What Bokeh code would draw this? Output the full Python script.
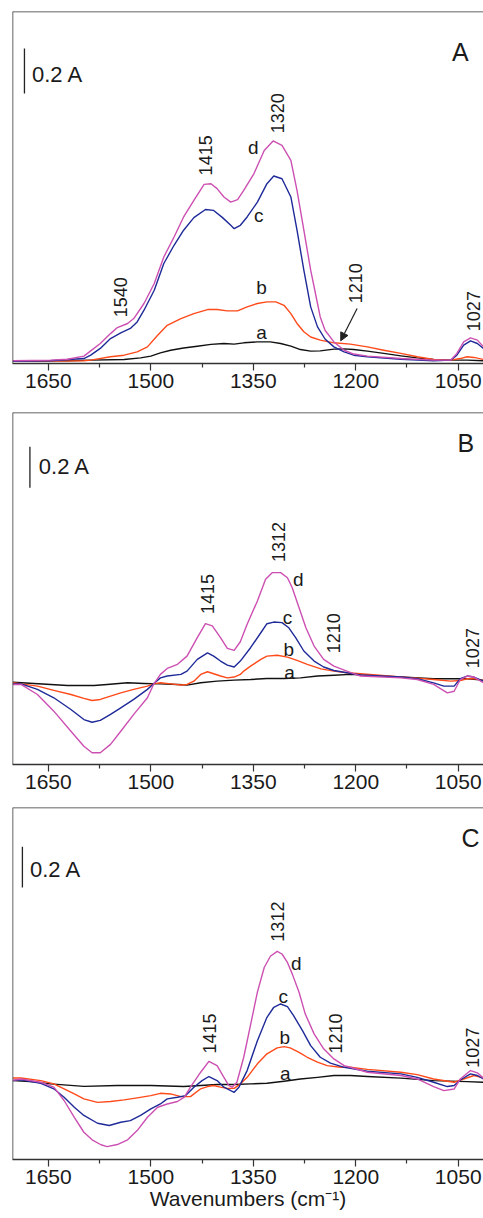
from bokeh.plotting import figure
from bokeh.models import Range1d, FixedTicker, Span, Arrow, NormalHead, Label
from bokeh.layouts import column
from bokeh.embed import file_html
from bokeh.resources import INLINE

# ---------------- data ----------------
tick_labels = [1650, 1500, 1350, 1200, 1050]
minor_tick_values = [1575, 1425, 1275, 1125]
x_title = "Wavenumbers (cm\u207b\u00b9)"

# Panel A
A_a_wn = [1702,1622,1588,1539,1515,1500,1486,1471,1452,1432,1412,1393,1378,1364,1344,1325,1310,1295,1281,1266,1252,1232,1217,1203,1183,1159,1134,1110,1086,1061,1037,1013]
A_a_ab = [0.003,0.003,0.006,0.009,0.016,0.024,0.038,0.050,0.060,0.068,0.076,0.080,0.077,0.083,0.087,0.087,0.080,0.068,0.053,0.046,0.047,0.055,0.056,0.053,0.046,0.036,0.025,0.016,0.009,0.006,0.006,0.003]
A_b_wn = [1702,1598,1588,1559,1539,1520,1505,1490,1476,1456,1437,1417,1403,1388,1373,1359,1344,1330,1317,1305,1295,1286,1276,1266,1252,1232,1208,1183,1159,1134,1110,1086,1061,1047,1037,1027,1013]
A_b_ab = [0.001,0.003,0.006,0.021,0.028,0.043,0.065,0.117,0.161,0.191,0.213,0.231,0.231,0.225,0.225,0.243,0.258,0.265,0.265,0.250,0.213,0.169,0.132,0.109,0.095,0.083,0.077,0.065,0.050,0.036,0.021,0.009,0.006,0.013,0.021,0.018,0.009]
A_c_wn = [1702,1647,1598,1588,1574,1559,1544,1530,1520,1510,1495,1481,1466,1452,1437,1420,1408,1395,1383,1378,1369,1359,1344,1330,1320,1308,1295,1286,1276,1266,1256,1245,1232,1217,1203,1183,1134,1086,1061,1052,1042,1032,1022,1013]
A_c_ab = [0.001,0.003,0.013,0.028,0.058,0.102,0.127,0.147,0.176,0.228,0.317,0.436,0.517,0.584,0.640,0.676,0.672,0.640,0.606,0.591,0.606,0.643,0.709,0.791,0.825,0.813,0.732,0.584,0.406,0.243,0.154,0.100,0.065,0.043,0.028,0.021,0.010,0.003,0.006,0.028,0.073,0.092,0.080,0.058]
A_d_wn = [1702,1647,1622,1598,1588,1574,1559,1549,1534,1525,1510,1495,1481,1466,1452,1437,1422,1412,1403,1393,1383,1373,1364,1349,1334,1321,1308,1295,1286,1276,1266,1256,1252,1245,1232,1217,1203,1183,1134,1086,1061,1052,1042,1032,1022,1013]
A_d_ab = [0.003,0.006,0.010,0.024,0.047,0.080,0.124,0.151,0.169,0.191,0.258,0.347,0.465,0.554,0.643,0.717,0.788,0.791,0.769,0.732,0.709,0.720,0.761,0.836,0.939,0.981,0.961,0.895,0.761,0.584,0.406,0.258,0.198,0.139,0.087,0.050,0.033,0.024,0.013,0.006,0.006,0.036,0.087,0.105,0.095,0.065]

# Panel B
B_a_wn = [1702,1671,1622,1583,1564,1534,1510,1486,1461,1447,1427,1403,1378,1354,1330,1305,1281,1256,1232,1208,1183,1134,1086,1037,1013]
B_a_ab = [0.003,-0.003,-0.013,-0.013,-0.008,0.000,-0.003,-0.005,-0.008,-0.011,0.000,0.008,0.013,0.016,0.021,0.021,0.024,0.033,0.037,0.041,0.036,0.028,0.020,0.020,0.013]
B_b_wn = [1702,1690,1666,1642,1617,1598,1586,1574,1559,1544,1525,1505,1496,1486,1471,1456,1447,1437,1427,1417,1408,1398,1388,1378,1369,1364,1354,1339,1330,1315,1300,1286,1271,1251,1232,1213,1193,1134,1086,1061,1047,1037,1027,1013]
B_b_ab = [0.000,-0.005,-0.016,-0.037,-0.057,-0.076,-0.086,-0.081,-0.065,-0.049,-0.032,-0.016,-0.005,0.000,-0.005,-0.011,-0.008,0.008,0.041,0.054,0.044,0.033,0.024,0.028,0.041,0.057,0.081,0.114,0.130,0.134,0.125,0.109,0.090,0.068,0.057,0.049,0.044,0.029,0.016,0.008,0.011,0.020,0.021,0.011]
B_c_wn = [1702,1690,1666,1642,1617,1598,1586,1574,1559,1544,1525,1505,1496,1486,1476,1456,1447,1432,1417,1408,1398,1388,1378,1369,1354,1339,1330,1320,1308,1298,1288,1276,1261,1247,1232,1213,1193,1134,1110,1086,1071,1056,1047,1037,1027,1013]
B_c_ab = [-0.005,-0.005,-0.032,-0.073,-0.130,-0.179,-0.192,-0.183,-0.154,-0.122,-0.081,-0.032,-0.005,0.024,0.033,0.041,0.057,0.114,0.146,0.130,0.106,0.086,0.077,0.106,0.171,0.244,0.288,0.296,0.293,0.268,0.220,0.155,0.106,0.077,0.060,0.049,0.038,0.028,0.020,0.000,-0.016,-0.016,0.020,0.033,0.028,0.008]
B_d_wn = [1702,1690,1666,1642,1617,1598,1586,1574,1559,1544,1525,1505,1496,1486,1476,1461,1447,1432,1420,1410,1398,1388,1378,1369,1359,1344,1332,1322,1310,1300,1293,1283,1273,1261,1247,1232,1213,1193,1134,1110,1086,1066,1056,1047,1037,1027,1013]
B_d_ab = [-0.008,-0.008,-0.057,-0.138,-0.236,-0.309,-0.341,-0.341,-0.300,-0.236,-0.154,-0.073,-0.008,0.041,0.070,0.090,0.130,0.220,0.288,0.277,0.220,0.168,0.158,0.200,0.285,0.399,0.504,0.537,0.537,0.512,0.463,0.366,0.268,0.179,0.114,0.081,0.057,0.033,0.024,0.016,-0.008,-0.049,-0.041,0.016,0.033,0.028,0.000]

# Panel C
C_a_wn = [1702,1671,1647,1598,1549,1500,1452,1427,1403,1378,1354,1330,1305,1281,1256,1232,1208,1183,1134,1086,1037,1013]
C_a_ab = [0.008,0.002,-0.008,-0.020,-0.016,-0.016,-0.021,-0.016,-0.011,-0.011,-0.008,-0.005,0.005,0.016,0.024,0.033,0.033,0.028,0.020,0.008,0.003,0.000]
C_b_wn = [1702,1690,1661,1642,1627,1612,1598,1578,1559,1539,1520,1500,1486,1471,1456,1442,1427,1417,1408,1398,1388,1378,1369,1359,1344,1330,1315,1305,1296,1283,1271,1256,1242,1222,1208,1183,1134,1110,1086,1056,1042,1027,1013]
C_b_ab = [0.021,0.021,0.008,-0.008,-0.032,-0.057,-0.081,-0.098,-0.094,-0.086,-0.076,-0.065,-0.054,-0.057,-0.070,-0.070,-0.032,-0.021,-0.016,-0.024,-0.030,-0.030,-0.008,0.024,0.090,0.139,0.168,0.174,0.168,0.146,0.122,0.098,0.081,0.073,0.073,0.063,0.049,0.037,0.016,0.000,0.016,0.033,0.021]
C_c_wn = [1702,1690,1661,1642,1627,1612,1598,1578,1561,1544,1530,1515,1500,1486,1476,1461,1449,1437,1425,1415,1403,1393,1383,1378,1371,1359,1344,1330,1320,1310,1300,1291,1278,1266,1252,1237,1217,1208,1183,1134,1110,1086,1066,1056,1047,1032,1022,1013]
C_c_ab = [0.008,0.012,-0.005,-0.032,-0.073,-0.122,-0.162,-0.200,-0.211,-0.195,-0.187,-0.162,-0.130,-0.106,-0.081,-0.073,-0.065,-0.024,0.008,0.028,0.008,-0.024,-0.041,-0.049,-0.024,0.057,0.203,0.317,0.366,0.382,0.369,0.325,0.252,0.179,0.122,0.093,0.073,0.068,0.054,0.041,0.024,0.000,-0.021,-0.016,0.011,0.041,0.033,0.016]
C_d_wn = [1702,1690,1661,1642,1627,1612,1598,1586,1573,1564,1549,1534,1520,1505,1490,1476,1461,1451,1442,1427,1415,1403,1393,1386,1381,1374,1364,1354,1344,1334,1325,1315,1308,1300,1293,1283,1274,1261,1247,1232,1217,1208,1183,1134,1110,1086,1071,1056,1047,1032,1022,1013]
C_d_ab = [0.010,0.016,0.000,-0.024,-0.089,-0.171,-0.244,-0.281,-0.305,-0.314,-0.304,-0.281,-0.236,-0.171,-0.122,-0.106,-0.094,-0.073,-0.024,0.049,0.102,0.081,0.024,-0.015,-0.024,0.000,0.122,0.280,0.440,0.560,0.615,0.639,0.626,0.585,0.529,0.439,0.334,0.236,0.163,0.114,0.081,0.073,0.049,0.033,0.016,-0.021,-0.041,-0.033,0.016,0.057,0.046,0.020]

# annotations: (text, wavenumber, absorbance, rotated)
A_labels = [("1540", 1544, 0.286, True), ("1415", 1420, 0.917, True), ("1320", 1314, 1.104, True),
            ("1210", 1200, 0.348, True), ("1027", 1028, 0.224, True),
            ("d", 1350, 0.952, False), ("c", 1342, 0.650, False), ("b", 1338, 0.330, False), ("a", 1338, 0.130, False)]
B_labels = [("1415", 1417, 0.433, True), ("1312", 1313, 0.686, True), ("1210", 1232, 0.242, True),
            ("1027", 1029, 0.169, True),
            ("d", 1284, 0.501, False), ("c", 1300, 0.320, False), ("b", 1298, 0.164, False), ("a", 1297, 0.052, False)]
C_labels = [("1415", 1414, 0.238, True), ("1312", 1314, 0.784, True), ("1210", 1230, 0.238, True),
            ("1027", 1029, 0.169, True),
            ("d", 1287, 0.579, False), ("c", 1306, 0.418, False), ("b", 1304, 0.218, False), ("a", 1303, 0.042, False)]

panel_letters = {"A": (1047, 1.375), "B": (1039, 1.169), "C": (1032, 1.194)}
scale_bars = {"A": (1685, 1.192, 1674, 1.277), "B": (1677, 0.950, 1664, 1.052), "C": (1688, 0.950, 1677, 1.038)}
scale_text = "0.2 A"
arrow_A = (1198, 0.236, 1222, 0.092)

y_ranges = {"A": (-0.009, 1.557), "B": (-0.398, 1.317), "C": (-0.377, 1.341)}

COLORS = {"a": "#111111", "b": "#FF4A1A", "c": "#1E2A98", "d": "#CC50B2"}
FONT = "Liberation Sans"
TXT = "#1a1a1a"
FRAME = "#333333"
X_START, X_END = 1702.5, 1013


def make_panel(key, curves, labels, height, top, bottom, xlabel=None):
    yr = y_ranges[key]
    p = figure(width=483, height=height, x_range=Range1d(X_START, X_END), y_range=Range1d(*yr),
               output_backend="svg", toolbar_location=None, y_axis_location=None,
               min_border_left=12, min_border_right=0, min_border_top=top, min_border_bottom=bottom)
    p.outline_line_color = None
    p.grid.visible = False
    ax = p.xaxis[0]
    ax.ticker = FixedTicker(ticks=tick_labels, minor_ticks=minor_tick_values)
    ax.axis_line_color = FRAME
    ax.axis_line_width = 1.5
    ax.major_tick_line_color = FRAME
    ax.minor_tick_line_color = FRAME
    ax.major_tick_line_width = 1.2
    ax.minor_tick_line_width = 1.2
    ax.major_tick_out = 7
    ax.major_tick_in = 0
    ax.minor_tick_out = 4
    ax.minor_tick_in = 0
    ax.major_label_text_font = FONT
    ax.major_label_text_font_size = "21px"
    ax.major_label_text_color = TXT
    ax.major_label_standoff = 3
    if xlabel:
        ax.axis_label = xlabel
        ax.axis_label_text_font = FONT
        ax.axis_label_text_font_size = "21px"
        ax.axis_label_text_font_style = "normal"
        ax.axis_label_text_color = TXT
        ax.axis_label_standoff = 0

    # frame lines (left and top)
    p.add_layout(Span(location=X_START, dimension="height", line_color=FRAME, line_width=1.5))
    p.add_layout(Span(location=yr[1], dimension="width", line_color=FRAME, line_width=1.5))

    for name in ["a", "b", "c", "d"]:
        wn, ab = curves[name]
        p.line(wn, ab, line_color=COLORS[name], line_width=1.4, line_join="round")

    for text, x, y, rot in labels:
        p.add_layout(Label(x=x, y=y, text=text, angle=1.5708 if rot else 0,
                           text_align="center", text_baseline="middle",
                           text_font=FONT, text_font_size="18px" if rot else "19px", text_color=TXT))

    lx, ly = panel_letters[key]
    p.add_layout(Label(x=lx, y=ly, text=key, text_align="center", text_baseline="middle",
                       text_font=FONT, text_font_size="25px", text_color=TXT))
    sx, sy, tx, ty = scale_bars[key]
    p.segment(x0=[sx], y0=[sy], x1=[sx], y1=[sy + 0.2], line_color="#222222", line_width=1.3)
    p.add_layout(Label(x=tx, y=ty, text=scale_text, text_align="left", text_baseline="middle",
                       text_font=FONT, text_font_size="22px", text_color=TXT))
    return p


pA = make_panel("A", {"a": (A_a_wn, A_a_ab), "b": (A_b_wn, A_b_ab), "c": (A_c_wn, A_c_ab), "d": (A_d_wn, A_d_ab)},
                A_labels, 404, 11, 41)
x0, y0, x1, y1 = arrow_A
pA.add_layout(Arrow(end=NormalHead(size=8, fill_color="#222222", line_color="#222222"),
                    x_start=x0, y_start=y0, x_end=x1, y_end=y1, line_color="#222222", line_width=1.2))
pB = make_panel("B", {"a": (B_a_wn, B_a_ab), "b": (B_b_wn, B_b_ab), "c": (B_c_wn, B_c_ab), "d": (B_d_wn, B_d_ab)},
                B_labels, 398, 8, 38)
pC = make_panel("C", {"a": (C_a_wn, C_a_ab), "b": (C_b_wn, C_b_ab), "c": (C_c_wn, C_c_ab), "d": (C_d_wn, C_d_ab)},
                C_labels, 416, 5, 59, xlabel=x_title)

layout = column(pA, pB, pC, spacing=0)
open("out.html", "w").write(file_html(layout, INLINE))
